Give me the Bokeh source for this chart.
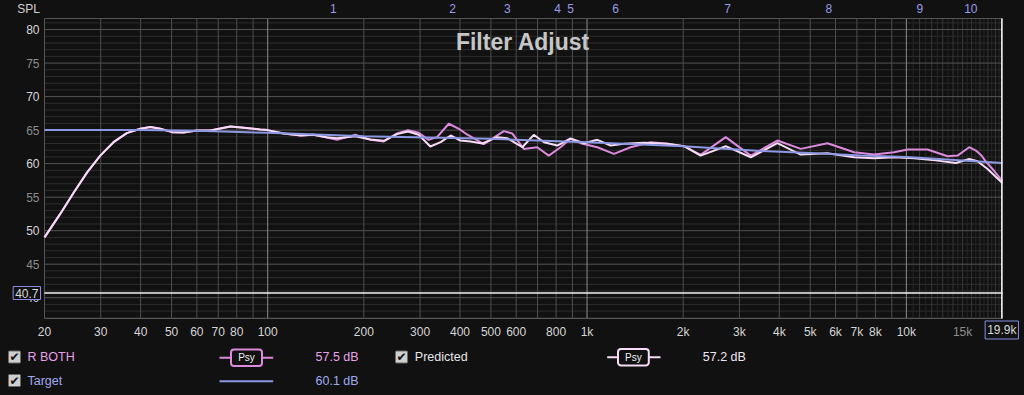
import math
from bokeh.plotting import figure
from bokeh.models import (Label, BoxAnnotation, GlobalInlineStyleSheet, ColumnDataSource, Range1d, Grid)
from bokeh.embed import file_html
from bokeh.resources import INLINE

# ---------------- data ----------------
freq_rboth = [20, 22.4, 24.7, 27.2, 29.9, 32.9, 36.2, 39.9, 42.9, 46.1, 50.2, 54.5, 60.0, 66.1, 76.4,
              84.1, 94.8, 100, 112, 127, 139, 153, 165, 188, 210, 231, 254, 275, 297, 319,
              339, 369, 397, 421, 475, 549, 583, 634, 698, 759, 826, 888, 955, 1077, 1214,
              1369, 1582, 1784, 2012, 2268, 2718, 3256, 3946, 4668, 5662, 6860, 7924, 9154, 10084, 11650,
              13460, 14466, 15730, 16510, 17120, 17750, 18840, 19900, 20000]
spl_rboth = [49.0, 52.5, 55.7, 58.7, 61.2, 63.2, 64.55, 65.2, 65.45, 65.2, 64.7, 64.65, 64.95, 64.95, 65.55,
             65.35, 65.1, 65.0, 64.5, 64.2, 64.3, 63.9, 63.55, 64.3, 63.55, 63.3, 64.5, 65.0, 64.6, 63.55,
             63.95, 65.95, 65.2, 64.35, 62.9, 64.85, 64.5, 62.2, 62.45, 61.2, 62.45, 63.7, 63.05, 62.45, 61.45,
             62.45, 63.2, 62.95, 62.6, 61.3, 63.95, 61.2, 63.45, 62.2, 63.05, 61.7, 61.35, 61.7, 62.1, 62.1,
             61.1, 61.2, 62.45, 61.95, 61.3, 60.3, 58.9, 57.5, 57.4]

freq_pred = [20, 22.4, 24.7, 27.2, 29.9, 32.9, 36.2, 39.9, 42.9, 46.1, 50.2, 54.5, 60.0, 66.1, 76.4,
             84.1, 94.8, 100, 112, 127, 139, 153, 165, 188, 210, 231, 254, 275, 297, 323,
             348, 374, 401, 432, 470, 523, 562, 627, 681, 733, 807, 888, 978, 1077, 1185,
             1305, 1508, 1784, 2012, 2268, 2718, 3256, 3946, 4668, 5662, 6860, 7924, 9154, 10574, 12520,
             14290, 15730, 16710, 17960, 19900, 20000]
spl_pred = [49.0, 52.5, 55.7, 58.7, 61.2, 63.2, 64.55, 65.2, 65.45, 65.2, 64.7, 64.65, 64.95, 64.95, 65.55,
            65.35, 65.1, 65.0, 64.5, 64.2, 64.3, 63.95, 63.8, 64.1, 63.6, 63.4, 64.4, 64.8, 64.3, 62.55,
            63.2, 64.2, 63.45, 63.3, 63.0, 63.95, 63.8, 62.45, 64.3, 63.2, 62.7, 63.75, 63.05, 63.55, 62.7,
            62.95, 63.1, 62.95, 62.6, 61.2, 62.6, 60.95, 63.05, 61.35, 61.55, 60.95, 60.8, 60.95, 60.8, 60.45,
            60.1, 60.7, 60.35, 59.2, 57.2, 57.1]

freq_target = [20, 40, 60, 100, 200, 500, 1000, 2000, 3500, 5000, 7200, 10000, 20000]
spl_target = [65.0, 65.0, 64.9, 64.6, 64.1, 63.7, 63.2, 62.6, 61.9, 61.6, 61.2, 61.0, 60.1]

filter_freqs = [160.6, 379, 563, 809, 888, 1229, 2756, 5716, 11016, 15920]
filter_labels = ["1", "2", "3", "4", "5", "6", "7", "8", "9", "10"]

x_tick_vals = [20, 30, 40, 50, 60, 70, 80, 100, 200, 300, 400, 500, 600, 800,
               1000, 2000, 3000, 4000, 5000, 6000, 7000, 8000, 10000]
x_tick_text = ["20", "30", "40", "50", "60", "70", "80", "100", "200", "300", "400", "500", "600", "800",
               "1k", "2k", "3k", "4k", "5k", "6k", "7k", "8k", "10k"]
x_tick_dim = [15000]
x_tick_dim_text = ["15k"]
y_tick_bright = [40, 50, 60, 70, 80]
y_tick_dim = [45, 55, 65, 75]

cursor_spl = 40.7
cursor_freq = 19900
cursor_freq_text = "19.9k"

legend_names = ["R BOTH", "Target", "Predicted"]
legend_values = ["57.5 dB", "60.1 dB", "57.2 dB"]

# ---------------- geometry / style ----------------
W, H = 1024, 395
PL, PR, PT, PB = 44, 1002, 18, 318          # plot area in canvas pixels
F0, F1 = 20, 20000                           # visible frequency span of the plot area
Y0, Y1 = 36.9, 81.65                         # visible SPL span of the plot area

dec_px = math.log10(F1 / F0) / (PR - PL)
x_start = F0 * 10 ** (-PL * dec_px)
x_end = F1 * 10 ** ((W - PR) * dec_px)
db_px = (Y1 - Y0) / (PB - PT)
y_start = Y0 - (H - PB) * db_px
y_end = Y1 + PT * db_px

BG = "#111111"
C_RBOTH = "#dd8ade"
C_PRED = "#f6dcf6"
C_TARGET = "#8e98e2"
FONT = "Liberation Sans"

p = figure(width=W, height=H, x_axis_type="log",
           x_range=Range1d(x_start, x_end), y_range=Range1d(y_start, y_end),
           x_axis_location=None, y_axis_location=None,
           min_border=0, min_border_left=0, min_border_right=0, min_border_top=0, min_border_bottom=0,
           output_backend="svg", toolbar_location=None,
           background_fill_color=BG, border_fill_color=BG, outline_line_color=None)
p.center = [r for r in p.center if not isinstance(r, Grid)]
p.stylesheets = [GlobalInlineStyleSheet(css="html, body { background-color: #111111; }")]


def sy(page_y):
    return H - page_y


# grid lines of the plot area
y_minor = [v for v in range(37, 82) if v % 5 != 0]
y_major = [v for v in range(40, 81, 5)]
x_minor = [30, 40, 50, 60, 70, 80, 90, 200, 300, 400, 500, 600, 700, 800, 900,
           2000, 3000, 4000, 5000, 6000, 7000, 8000, 9000]
x_major = [100, 1000, 10000]
x_hf_a = [11000, 12000, 13000, 14000, 15000, 16000, 17000, 18000, 19000]
x_hf_b = [10500, 11500, 12500, 13500, 14500, 15500, 16500, 17500, 18500, 19500]


def hlines(vals, col):
    n = len(vals)
    p.segment(x0=[F0] * n, y0=vals, x1=[F1] * n, y1=vals, line_color=col, line_width=1)


def vlines(vals, col):
    n = len(vals)
    p.segment(x0=vals, y0=[Y0] * n, x1=vals, y1=[Y1] * n, line_color=col, line_width=1)


hlines(y_minor, "#2d2d2d")
vlines(x_hf_b, "#262626")
vlines(x_hf_a, "#363636")
hlines(y_major, "#545454")
vlines(x_minor, "#4e4e4e")
vlines(x_major, "#8c8c8c")
p.quad(left=[F0], right=[F1], bottom=[Y0], top=[Y1], fill_color=None, line_color="#555555", line_width=1)

# tick labels
for v in y_tick_bright + y_tick_dim:
    p.add_layout(Label(x=39, y=v, x_units="screen", y_units="data", text=str(v),
                       text_align="right", text_baseline="middle",
                       text_color="#d6d6d6" if v in y_tick_bright else "#8c8c8c",
                       text_font=FONT, text_font_size="12px"))
for v, t in zip(x_tick_vals + x_tick_dim, x_tick_text + x_tick_dim_text):
    p.add_layout(Label(x=v, y=sy(331), x_units="data", y_units="screen", text=t,
                       text_align="center", text_baseline="middle",
                       text_color="#d6d6d6" if v in x_tick_vals else "#8c8c8c",
                       text_font=FONT, text_font_size="12px"))

# curves
src_r = ColumnDataSource(dict(f=freq_rboth, db=spl_rboth))
src_p = ColumnDataSource(dict(f=freq_pred, db=spl_pred))
src_t = ColumnDataSource(dict(f=freq_target, db=spl_target))
p.line("f", "db", source=src_r, line_color=C_RBOTH, line_width=2)
p.line("f", "db", source=src_p, line_color=C_PRED, line_width=2)
p.line("f", "db", source=src_t, line_color=C_TARGET, line_width=2)

# cursors
p.segment(x0=[F0], y0=[cursor_spl], x1=[F1], y1=[cursor_spl], line_color="#f2f2f2", line_width=1.5)
p.segment(x0=[cursor_freq], y0=[Y0], x1=[cursor_freq], y1=[Y1], line_color="#f2f2f2", line_width=1.5)
p.add_layout(Label(x=40, y=cursor_spl, x_units="screen", y_units="data", text=str(cursor_spl),
                   text_align="right", text_baseline="middle", text_color="#d8d8d8",
                   text_font=FONT, text_font_size="12px", padding=2,
                   background_fill_color=BG, background_fill_alpha=1.0,
                   border_line_color="#8a8ee6", border_line_width=1))
p.add_layout(Label(x=cursor_freq, y=sy(329.5), x_units="data", y_units="screen", text=cursor_freq_text,
                   text_align="center", text_baseline="middle", text_color="#d8d8d8",
                   text_font=FONT, text_font_size="12px", padding=2,
                   background_fill_color=BG, background_fill_alpha=1.0,
                   border_line_color="#8a8ee6", border_line_width=1))

# title, axis caption, filter markers
p.add_layout(Label(x=522.5, y=sy(41.7), x_units="screen", y_units="screen", text="Filter Adjust",
                   text_align="center", text_baseline="alphabetic", text_color="#c6c6c6",
                   text_font=FONT, text_font_style="bold", text_font_size="23px"))
p.add_layout(Label(x=16.7, y=sy(8), x_units="screen", y_units="screen", text="SPL",
                   text_align="left", text_baseline="middle", text_color="#d0d0d0",
                   text_font=FONT, text_font_size="12px"))
for f, t in zip(filter_freqs, filter_labels):
    p.add_layout(Label(x=f, y=sy(8), x_units="data", y_units="screen", text=t,
                       text_align="center", text_baseline="middle", text_color="#9a9ae8",
                       text_font=FONT, text_font_size="12px"))


# ---------------- legend (canvas pixel positions) ----------------
def sbox(l, r, top_py, bot_py, fill, line=None, lw=1, radius=0):
    return BoxAnnotation(left=l, right=r, bottom=sy(bot_py), top=sy(top_py),
                         left_units="screen", right_units="screen",
                         bottom_units="screen", top_units="screen",
                         fill_color=fill, fill_alpha=1.0,
                         line_color=line, line_alpha=1.0, line_width=lw,
                         border_radius=radius)


def stext(x, py, t, col, size="12.5px", font=FONT, align="left"):
    return Label(x=x, y=sy(py), x_units="screen", y_units="screen", text=t, text_align=align,
                 text_baseline="middle", text_color=col, text_font=font, text_font_size=size)


def checkbox(l, cy):
    p.add_layout(sbox(l, l + 12, cy - 6, cy + 6, "#cfcfcf", "#6a6a6a", 1, 1))
    p.add_layout(stext(l + 6, cy, "\u2714", "#141414", size="12px", font="DejaVu Sans", align="center"))


def psy_sample(l, r, bl, br, cy, col):
    p.add_layout(sbox(l, r, cy - 1, cy + 1, col))
    p.add_layout(sbox(bl, br, cy - 8.2, cy + 8.2, BG, col, 2, 3))
    p.add_layout(stext((bl + br) / 2, cy, "Psy", "#f0f0f0", size="10px", align="center"))


row1, row2 = 356.5, 380.0
checkbox(8, row1)
checkbox(8, row2)
checkbox(395, row1)

p.add_layout(stext(27, row1, legend_names[0], "#e6a0e6"))
p.add_layout(stext(27, row2, legend_names[1], "#a2a8f0"))
p.add_layout(stext(414.3, row1, legend_names[2], "#e6e6e6"))

psy_sample(219, 272.7, 230.5, 261.5, 357.3, C_RBOTH)
psy_sample(606.7, 660, 617.5, 648.3, 356.7, C_PRED)
p.add_layout(sbox(219, 272.7, 379.7, 381.7, C_TARGET))

p.add_layout(stext(315, row1, legend_values[0], "#e6a3e6"))
p.add_layout(stext(315, row2, legend_values[1], "#a2a8f0"))
p.add_layout(stext(702.3, row1, legend_values[2], "#f2e4f2"))

open("out.html", "w").write(file_html(p, INLINE))
